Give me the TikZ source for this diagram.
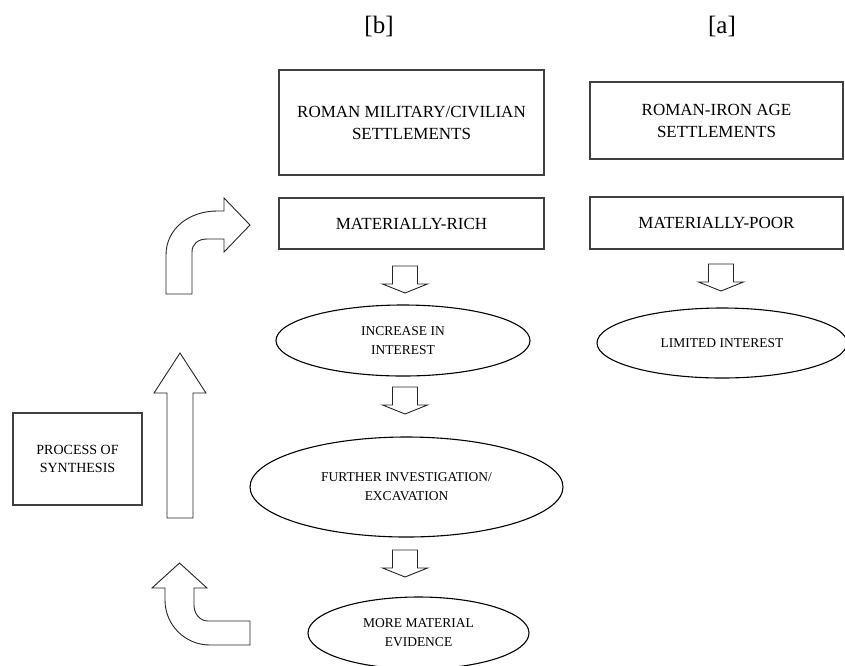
\documentclass[tikz,border=0pt]{standalone}
\usepackage{fontspec}
\setmainfont{Liberation Serif}
\usetikzlibrary{shapes.geometric}

\begin{document}
\begin{tikzpicture}[x=1pt,y=-1pt,
  box/.style={draw=black!75, line width=1.3pt, rectangle, inner sep=0pt,
    align=center, font=\fontsize{17}{22}\selectfont},
  oval/.style={draw=black, line width=1.1pt, ellipse, inner sep=0pt,
    align=center, font=\fontsize{13.5}{19}\selectfont},
  blockarrow/.style={draw=black!85, line width=0.9pt, fill=white, line join=miter},
  title/.style={font=\fontsize{25}{30}\selectfont},
  dnarrow/.pic={\draw[blockarrow] (-12.5,0) -- (12.5,0) -- (12.5,18) -- (22.5,18)
    -- (0,27) -- (-22.5,18) -- (-12.5,18) -- cycle;}
]
\useasboundingbox (0,0) rectangle (845,665);
\clip (0,0) rectangle (845,665);

% column headings
\node[title] (tb) at (379,26) {[b]};
\node[title] (ta) at (722,26) {[a]};

% column [b]
\node[box, minimum width=265pt, minimum height=105pt] (milit) at (411.5,122.5)
  {ROMAN MILITARY/CIVILIAN\\SETTLEMENTS};
\node[box, minimum width=265pt, minimum height=51pt] (rich) at (411.5,223.5)
  {MATERIALLY-RICH};
\node[oval, minimum width=254pt, minimum height=71pt] (incr) at (403,340.5)
  {INCREASE IN\\INTEREST};
\node[oval, minimum width=313pt, minimum height=100pt] (invest) at (406.5,487)
  {FURTHER INVESTIGATION/\\EXCAVATION};
\node[oval, minimum width=221pt, minimum height=72pt] (evid) at (418.5,633)
  {MORE MATERIAL\\EVIDENCE};

% column [a]
\node[box, minimum width=253pt, minimum height=77pt] (iron) at (716.5,120.5)
  {ROMAN-IRON AGE\\SETTLEMENTS};
\node[box, minimum width=253pt, minimum height=52pt] (poor) at (716.5,223)
  {MATERIALLY-POOR};
\node[oval, minimum width=250pt, minimum height=70pt] (limit) at (722,343)
  {LIMITED INTEREST};

% synthesis label
\node[box, minimum width=129pt, minimum height=92pt,
  font=\fontsize{14}{18}\selectfont] (synth) at (77.5,459)
  {PROCESS OF\\SYNTHESIS};

% downward block arrows between stages
\pic at (405,266) {dnarrow};
\pic at (405,387) {dnarrow};
\pic at (405,550) {dnarrow};
\pic at (721,264) {dnarrow};

% feedback loop: curved arrow up from the evidence
\draw[blockarrow] (165,588) -- (165,600)
  .. controls (165,625) and (185,645) .. (210,645)
  -- (250,645) -- (250,621) -- (208,621)
  .. controls (200,621) and (194,614) .. (194,605)
  -- (194,588) -- (207,588) -- (179.5,563) -- (152,588) -- cycle;

% feedback loop: straight arrow up
\draw[blockarrow] (167,518) -- (167,393) -- (154,393) -- (180,353)
  -- (206,393) -- (193,393) -- (193,518) -- cycle;

% feedback loop: curved arrow right into the rich settlements
\draw[blockarrow] (166,294) -- (166,255)
  .. controls (166,228) and (190,211) .. (217,211)
  -- (224,211) -- (224,198) -- (250,225) -- (224,252) -- (224,239)
  -- (207,239)
  .. controls (198,239) and (192,244) .. (192,252)
  -- (192,294) -- cycle;
\end{tikzpicture}
\end{document}
